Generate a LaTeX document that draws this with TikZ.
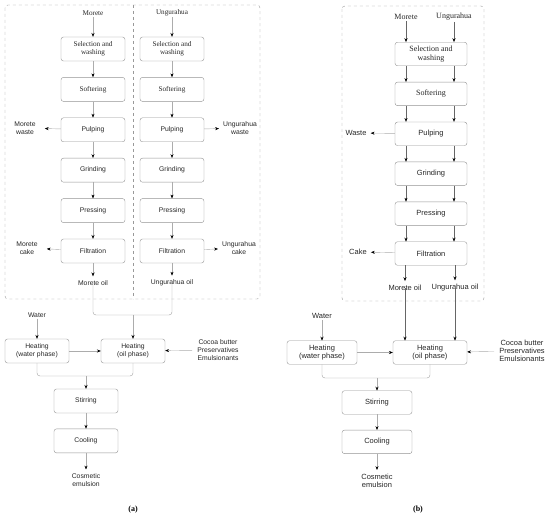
\documentclass[tikz,border=0pt]{standalone}
\usepackage{fontspec}
\setmainfont{Liberation Serif}
\setsansfont{Liberation Sans}
\usetikzlibrary{arrows.meta, positioning}

\begin{document}
\begin{tikzpicture}[
    x=1pt, y=-1pt,
    proc/.style={draw=gray!85, rounded corners=2.5pt, minimum width=64pt, minimum height=24pt, align=center, inner sep=1pt, text=black!85, font=\sffamily\fontsize{6.8}{7.8}\selectfont},
    procs/.style={proc, font=\rmfamily\fontsize{7.2}{8}\selectfont},
    wproc/.style={proc, minimum width=72pt, minimum height=23.5pt, font=\sffamily\fontsize{7.5}{8.5}\selectfont},
    wprocs/.style={wproc, font=\rmfamily\fontsize{8}{8.8}\selectfont},
    lbl/.style={align=center, inner sep=1pt, text=black!85, font=\sffamily\fontsize{6.8}{7.6}\selectfont},
    lbls/.style={lbl, font=\rmfamily\fontsize{7.2}{8}\selectfont},
    wlbl/.style={lbl, font=\sffamily\fontsize{7.5}{8.2}\selectfont},
    wlbls/.style={lbl, font=\rmfamily\fontsize{8}{8.8}\selectfont},
    flow/.style={draw=gray!65, -{Stealth[black, length=3.8pt, width=3pt]}},
    flowd/.style={draw=black!60, line width=0.35pt, -{Stealth[black, length=3.8pt, width=3pt]}},
    link/.style={draw=gray!75, rounded corners=3pt},
    grp/.style={draw=gray!80, dashed, rounded corners=3pt}
  ]
  \useasboundingbox (0,0) rectangle (550,518);

  % (a) separate lines
  \draw[grp] (5,5) rectangle (260,299);
  \draw[gray!80, dashed] (133,5) -- (133,299);

  \node[lbls] (am) at (93,13) {Morete};
  \node[lbls] (au) at (172,13) {Ungurahua};

  \node[procs] (am1) at (93,49) {Selection and\\washing};
  \node[procs, below=16pt of am1] (am2) {Softering};
  \node[proc, below=16pt of am2] (am3) {Pulping};
  \node[proc, below=16pt of am3] (am4) {Grinding};
  \node[proc, below=16pt of am4] (am5) {Pressing};
  \node[proc, below=16pt of am5] (am6) {Filtration};
  \node[lbl] (amo) at (93,283) {Morete oil};

  \node[procs] (au1) at (172,49) {Selection and\\washing};
  \node[procs, below=16pt of au1] (au2) {Softering};
  \node[proc, below=16pt of au2] (au3) {Pulping};
  \node[proc, below=16pt of au3] (au4) {Grinding};
  \node[proc, below=16pt of au4] (au5) {Pressing};
  \node[proc, below=16pt of au5] (au6) {Filtration};
  \node[lbl] (auo) at (172,283) {Ungurahua oil};

  \draw[flow] (am) -- (am1);
  \draw[flow] (au) -- (au1);
  \foreach \i [count=\j from 2] in {1,...,5} {
    \draw[flow] (am\i) -- (am\j);
    \draw[flow] (au\i) -- (au\j);
  }
  \draw[flow, shorten >=3pt] (am6) -- (amo);
  \draw[flow, shorten >=3pt] (au6) -- (auo);

  \node[lbl] (amw) at (25,128) {Morete\\waste};
  \node[lbl] (auw) at (240,128) {Ungurahua\\waste};
  \node[lbl] (amc) at (27,248) {Morete\\cake};
  \node[lbl] (auc) at (239,248) {Ungurahua\\cake};
  \draw[flow, shorten >=8pt] (am3) -- (amw);
  \draw[flow, shorten >=3pt] (au3) -- (auw);
  \draw[flow, shorten >=8pt] (am6) -- (amc);
  \draw[flow, shorten >=3pt] (au6) -- (auc);

  % (a) emulsion
  \node[lbl] (aw) at (37,315) {Water};
  \node[proc] (ahw) at (37,351) {Heating\\(water phase)};
  \node[proc] (aho) at (133,351) {Heating\\(oil phase)};
  \node[lbl] (aadd) at (218,350) {Cocoa butter\\Preservatives\\Emulsionants};
  \node[proc] (ast) at (86,401) {Stirring};
  \node[proc, below=15.5pt of ast] (aco) {Cooling};
  \node[lbl] (aem) at (86,480) {Cosmetic\\emulsion};

  \coordinate (aj) at (133,315);
  \draw[link] ([yshift=4pt]amo.south) |- (aj) -| ([yshift=4pt]auo.south);
  \draw[flow] (aj) -- (aho);
  \draw[flow] (aw) -- (ahw);
  \draw[flow] (ahw) -- (aho);
  \draw[flow, shorten <=4pt] (aadd) -- (aho);
  \coordinate (ak) at (86,376);
  \draw[link] (ahw.south) |- (ak) -| (aho.south);
  \draw[flow] (ak) -- (ast);
  \draw[flow] (ast) -- (aco);
  \draw[flow, shorten >=3pt] (aco) -- (aem);

  \node[font=\rmfamily\bfseries\fontsize{8}{9}\selectfont] (ta) at (133,510) {(a)};

  % (b) combined line
  \draw[grp] (342,6) rectangle (484,301);

  \node[wlbls] (bm) at (406,17) {Morete};
  \node[wlbls] (bu) at (454,17) {Ungurahua};

  \node[wprocs] (b1) at (431,54) {Selection and\\washing};
  \node[wprocs, below=16pt of b1] (b2) {Softering};
  \node[wproc, below=16pt of b2] (b3) {Pulping};
  \node[wproc, below=16pt of b3] (b4) {Grinding};
  \node[wproc, below=16pt of b4] (b5) {Pressing};
  \node[wproc, below=16pt of b5] (b6) {Filtration};
  \node[wlbl] (bmo) at (405,288) {Morete oil};
  \node[wlbl] (buo) at (455,288) {Ungurahua oil};

  \draw[flowd] (bm) -- (bm |- b1.north);
  \draw[flowd] (bu) -- (bu |- b1.north);
  \foreach \i [count=\j from 2] in {1,...,5} {
    \draw[flowd] (b\i.south -| bm) -- (b\j.north -| bm);
    \draw[flowd] (b\i.south -| bu) -- (b\j.north -| bu);
  }
  \draw[flowd, shorten >=3pt] (b6.south -| bmo) -- (bmo);
  \draw[flowd, shorten >=3pt] (b6.south -| buo) -- (buo);

  \node[wlbl] (bw) at (356,133) {Waste};
  \node[wlbl] (bc) at (358,252) {Cake};
  \draw[flow, shorten >=3pt] (b3) -- (bw);
  \draw[flow, shorten >=3pt] (b6) -- (bc);

  % (b) emulsion
  \node[wlbl] (bwa) at (322,316) {Water};
  \node[wproc, minimum width=70pt] (bhw) at (322,352.5) {Heating\\(water phase)};
  \node[wproc, minimum width=74pt] (bho) at (430,352.5) {Heating\\(oil phase)};
  \node[wlbl] (badd) at (522,351) {Cocoa butter\\Preservatives\\Emulsionants};
  \node[wproc, minimum width=70pt] (bst) at (377,402.5) {Stirring};
  \node[wproc, minimum width=70pt, below=15.5pt of bst] (bco) {Cooling};
  \node[wlbl] (bem) at (377,481) {Cosmetic\\emulsion};

  \draw[flowd] ([yshift=4pt]bmo.south) -- (bmo.south |- bho.north);
  \draw[flowd] ([yshift=4pt]buo.south) -- (buo.south |- bho.north);
  \draw[flow] (bwa) -- (bhw);
  \draw[flow] (bhw) -- (bho);
  \draw[flow, shorten <=4pt] (badd) -- (bho);
  \coordinate (bk) at (377,378);
  \draw[link] (bhw.south) |- (bk) -| (bho.south);
  \draw[flow] (bk) -- (bst);
  \draw[flow] (bst) -- (bco);
  \draw[flow, shorten >=3pt] (bco) -- (bem);

  \node[font=\rmfamily\bfseries\fontsize{8}{9}\selectfont] (tb) at (418,510) {(b)};

\end{tikzpicture}
\end{document}
